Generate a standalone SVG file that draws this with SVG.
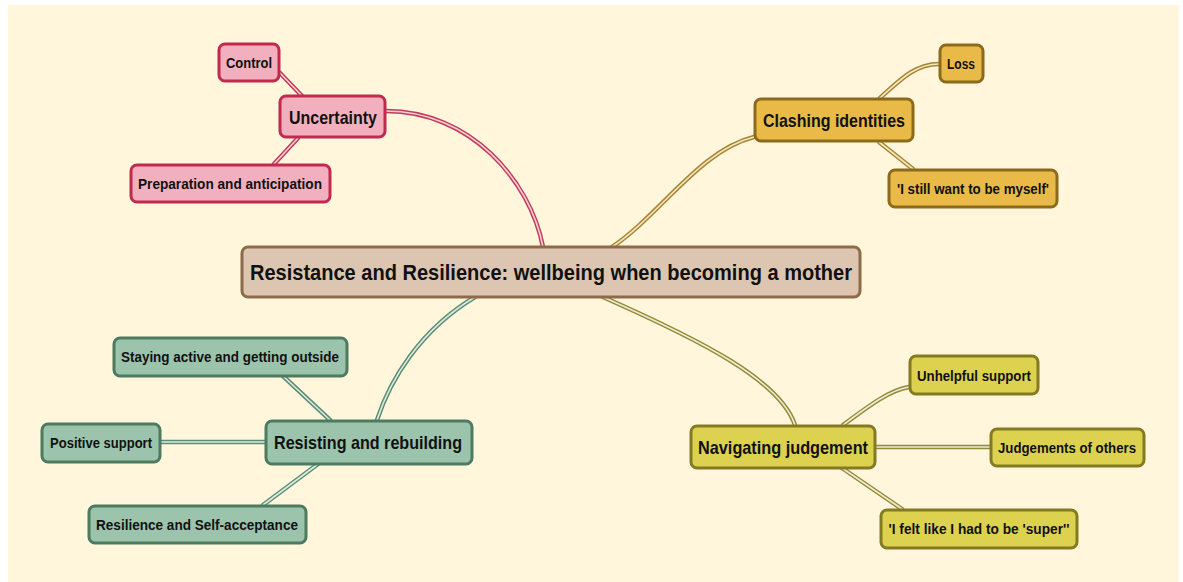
<svg xmlns="http://www.w3.org/2000/svg" width="1183" height="582" viewBox="0 0 1183 582">
<style>
text{font-family:"Liberation Sans",Arial,sans-serif;font-weight:bold;fill:#111;text-anchor:middle;dominant-baseline:central}
.t0{font-size:22px}.t1{font-size:18.5px}.t2{font-size:14.5px}
rect.n{rx:6;ry:6;stroke-width:3}
.pk{fill:#f2b0bf;stroke:#c02a4c}
.gd{fill:#e9ba48;stroke:#8c6a1c}
.ct{fill:#dcc6b2;stroke:#8e6a48}
.gr{fill:#9cc4ac;stroke:#4d7b5f}
.yl{fill:#ddd150;stroke:#847a22}
path{fill:none;stroke-linecap:round}
.o{stroke-width:4.5}.i{stroke-width:1.6}
.po{stroke:#c23b5a}.pi{stroke:#f6d0d8}
.go{stroke:#a68432}.gi{stroke:#f4e6c0}
.ro{stroke:#5e8d74}.ri{stroke:#dcebe1}
.yo{stroke:#948a3a}.yi{stroke:#f0ecd0}
</style>
<rect x="0" y="0" width="1183" height="582" fill="#ffffff"/>
<rect x="8" y="5" width="1171" height="577" fill="#fff6dc"/>
<g id="connectors">
<g><path class="o po" d="M386,111 C470,111 530,180 543,247"/><path class="i pi" d="M386,111 C470,111 530,180 543,247"/></g>
<g><path class="o po" d="M280,73 L302,96"/><path class="i pi" d="M280,73 L302,96"/></g>
<g><path class="o po" d="M298,138 L274,164"/><path class="i pi" d="M298,138 L274,164"/></g>
<g><path class="o go" d="M612,247 C660,215 700,150 754,137"/><path class="i gi" d="M612,247 C660,215 700,150 754,137"/></g>
<g><path class="o go" d="M880,98 C900,80 915,64 939,64"/><path class="i gi" d="M880,98 C900,80 915,64 939,64"/></g>
<g><path class="o go" d="M879,142 L913,169"/><path class="i gi" d="M879,142 L913,169"/></g>
<g><path class="o ro" d="M475,297 C420,330 390,380 377,420"/><path class="i ri" d="M475,297 C420,330 390,380 377,420"/></g>
<g><path class="o ro" d="M283,376 L330,420"/><path class="i ri" d="M283,376 L330,420"/></g>
<g><path class="o ro" d="M160,442 L265,442"/><path class="i ri" d="M160,442 L265,442"/></g>
<g><path class="o ro" d="M263,505 L318,464"/><path class="i ri" d="M263,505 L318,464"/></g>
<g><path class="o yo" d="M603,297 C700,340 780,380 795,425"/><path class="i yi" d="M603,297 C700,340 780,380 795,425"/></g>
<g><path class="o yo" d="M843,425 C870,405 890,390 909,387"/><path class="i yi" d="M843,425 C870,405 890,390 909,387"/></g>
<g><path class="o yo" d="M876,447 L990,447"/><path class="i yi" d="M876,447 L990,447"/></g>
<g><path class="o yo" d="M842,468 L902,509"/><path class="i yi" d="M842,468 L902,509"/></g>
</g>
<g id="central"><rect class="n ct" x="242" y="247" width="618" height="50"/><text class="t0" x="551" y="272" textLength="602" lengthAdjust="spacingAndGlyphs">Resistance and Resilience: wellbeing when becoming a mother</text></g>
<g id="uncertainty"><rect class="n pk" x="280" y="96" width="105" height="41"/><text class="t1" x="333" y="117" textLength="88" lengthAdjust="spacingAndGlyphs">Uncertainty</text></g>
<g id="control"><rect class="n pk" x="219" y="44" width="60" height="37"/><text class="t2" x="249" y="63" textLength="46" lengthAdjust="spacingAndGlyphs">Control</text></g>
<g id="preparation"><rect class="n pk" x="131" y="165" width="199" height="37"/><text class="t2" x="230" y="184" textLength="184" lengthAdjust="spacingAndGlyphs">Preparation and anticipation</text></g>
<g id="clashing"><rect class="n gd" x="755" y="99" width="158" height="42"/><text class="t1" x="834" y="120" textLength="142" lengthAdjust="spacingAndGlyphs">Clashing identities</text></g>
<g id="loss"><rect class="n gd" x="940" y="45" width="43" height="37"/><text class="t2" x="961" y="64" textLength="28" lengthAdjust="spacingAndGlyphs">Loss</text></g>
<g id="myself"><rect class="n gd" x="889" y="170" width="168" height="37"/><text class="t2" x="973" y="189" textLength="152" lengthAdjust="spacingAndGlyphs">'I still want to be myself'</text></g>
<g id="resisting"><rect class="n gr" x="266" y="421" width="206" height="43"/><text class="t1" x="368" y="442" textLength="188" lengthAdjust="spacingAndGlyphs">Resisting and rebuilding</text></g>
<g id="staying"><rect class="n gr" x="114" y="338" width="233" height="38"/><text class="t2" x="230" y="357" textLength="218" lengthAdjust="spacingAndGlyphs">Staying active and getting outside</text></g>
<g id="positive"><rect class="n gr" x="42" y="424" width="118" height="38"/><text class="t2" x="101" y="443" textLength="102" lengthAdjust="spacingAndGlyphs">Positive support</text></g>
<g id="resilience"><rect class="n gr" x="89" y="506" width="217" height="37"/><text class="t2" x="197" y="525" textLength="202" lengthAdjust="spacingAndGlyphs">Resilience and Self-acceptance</text></g>
<g id="navigating"><rect class="n yl" x="691" y="426" width="184" height="42"/><text class="t1" x="783" y="447" textLength="170" lengthAdjust="spacingAndGlyphs">Navigating judgement</text></g>
<g id="unhelpful"><rect class="n yl" x="910" y="356" width="128" height="38"/><text class="t2" x="974" y="376" textLength="114" lengthAdjust="spacingAndGlyphs">Unhelpful support</text></g>
<g id="judgements"><rect class="n yl" x="991" y="429" width="153" height="37"/><text class="t2" x="1067" y="448" textLength="138" lengthAdjust="spacingAndGlyphs">Judgements of others</text></g>
<g id="super"><rect class="n yl" x="881" y="510" width="196" height="38"/><text class="t2" x="979" y="529" textLength="181" lengthAdjust="spacingAndGlyphs">'I felt like I had to be 'super''</text></g>
</svg>
